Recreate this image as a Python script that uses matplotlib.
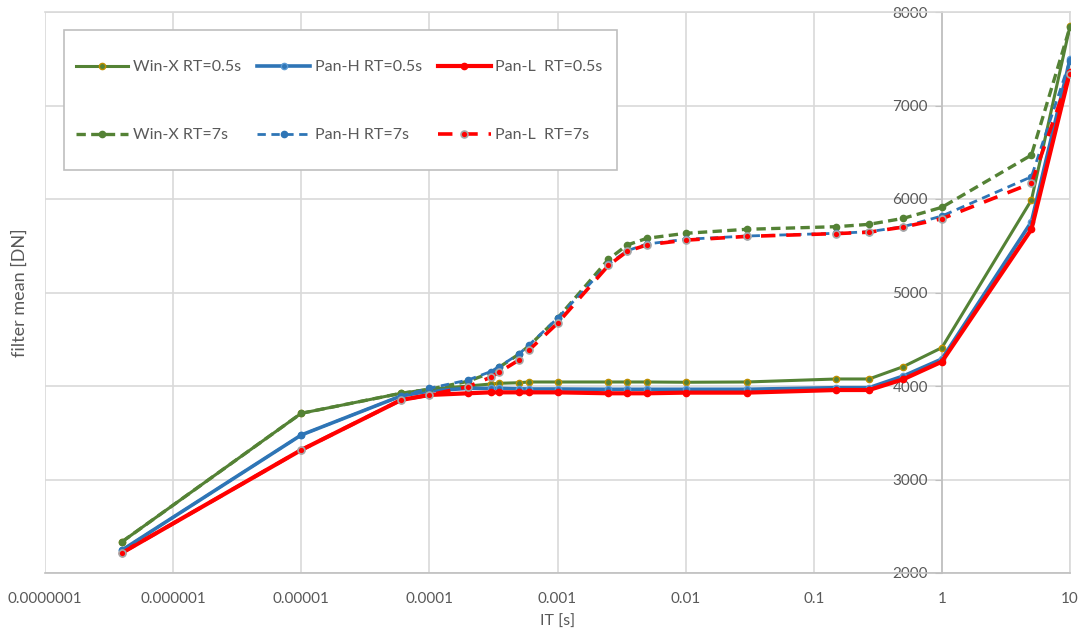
import numpy as np
import matplotlib
matplotlib.use("Agg")
import matplotlib.pyplot as plt
from matplotlib.patches import Rectangle
from matplotlib.ticker import FixedLocator, FixedFormatter, NullLocator

# integration time [s]
it_s = [4e-7, 1e-5, 6e-5, 1e-4, 2e-4, 3e-4, 3.5e-4, 5e-4, 6e-4, 1e-3, 2.5e-3,
        3.5e-3, 5e-3, 1e-2, 3e-2, 0.15, 0.27, 0.5, 1, 5, 10]

# filter mean [DN], RT=0.5s
win_x_05 = [2335, 3708, 3922, 3965, 4000, 4021, 4029, 4035, 4043, 4043, 4043,
            4043, 4043, 4040, 4043, 4075, 4075, 4207, 4410, 5989, 7850]
pan_h_05 = [2246, 3476, 3893, 3946, 3975, 3975, 3975, 3970, 3968, 3968, 3965,
            3965, 3965, 3965, 3965, 3982, 3982, 4107, 4289, 5757, 7494]
pan_l_05 = [2217, 3316, 3850, 3904, 3922, 3932, 3932, 3932, 3932, 3932, 3922,
            3922, 3922, 3929, 3929, 3957, 3957, 4072, 4260, 5676, 7361]

# filter mean [DN], RT=7s
win_x_7 = [2335, 3708, 3922, 3965, 4050, 4140, 4200, 4340, 4430, 4724, 5355,
           5508, 5580, 5633, 5676, 5704, 5729, 5793, 5911, 6470, 7840]
pan_h_7 = [2246, 3476, 3893, 3975, 4064, 4153, 4207, 4342, 4439, 4724, 5305,
           5447, 5519, 5569, 5604, 5633, 5650, 5704, 5818, 6238, 7480]
pan_l_7 = [2217, 3316, 3850, 3904, 3993, 4093, 4147, 4278, 4385, 4671, 5290,
           5440, 5510, 5560, 5600, 5630, 5645, 5700, 5789, 6168, 7340]

x_ticks = [1e-7, 1e-6, 1e-5, 1e-4, 1e-3, 1e-2, 1e-1, 1, 10]
x_tick_labels = ["0.0000001", "0.000001", "0.00001", "0.0001", "0.001",
                 "0.01", "0.1", "1", "10"]
y_ticks = [2000, 3000, 4000, 5000, 6000, 7000, 8000]

plt.rcParams['font.family'] = ['Lato', 'DejaVu Sans']
txt = '#595959'
grid_c = '#D9D9D9'
green = '#548235'
blue = '#2E75B6'
red = '#FF0000'

fig = plt.figure(figsize=(10.81, 6.39), dpi=100)
ax = fig.add_axes([45 / 1081, 66 / 639, 1025 / 1081, 561 / 639])

# RT=0.5s solid
ax.plot(it_s, win_x_05, color=green, lw=2.2, marker='o', ms=4.5,
        mfc=green, mec='#BF9000', mew=1, label='Win-X RT=0.5s', zorder=3)
ax.plot(it_s, pan_h_05, color=blue, lw=2.6, marker='o', ms=4.5,
        mfc=blue, mec='#5B9BD5', mew=1, label='Pan-H RT=0.5s', zorder=3)
ax.plot(it_s, pan_l_05, color=red, lw=3, marker='o', ms=4.5,
        mfc=red, mec=red, mew=1, label='Pan-L  RT=0.5s', zorder=3)

# RT=7s dashed
ax.plot(it_s, win_x_7, color=green, lw=2.4, ls=(0, (2.8, 1.6)), marker='o',
        ms=4.5, mfc=green, mec=green, label='Win-X RT=7s', zorder=4)
ax.plot(it_s, pan_h_7, color=blue, lw=2, ls=(0, (3, 2)), marker='o',
        ms=4.5, mfc=blue, mec=blue, label='Pan-H RT=7s', zorder=4)
ax.plot(it_s, pan_l_7, color=red, lw=2.6, ls=(0, (4, 3)), marker='o',
        ms=5, mfc=red, mec='#A6A6A6', mew=1.2, label='Pan-L  RT=7s', zorder=4)

ax.set_xscale('log')
ax.set_xlim(1e-7, 10)
ax.set_ylim(2000, 8000)
ax.xaxis.set_major_locator(FixedLocator(x_ticks))
ax.xaxis.set_major_formatter(FixedFormatter(x_tick_labels))
ax.xaxis.set_minor_locator(NullLocator())
ax.set_yticks(y_ticks)
ax.set_yticklabels([str(v) for v in y_ticks])

ax.grid(True, color=grid_c, lw=1.2, zorder=0)
ax.set_axisbelow(True)

# vertical axis crosses at IT = 1 s
ax.spines['left'].set_position(('data', 1))
ax.spines['left'].set_color('#BFBFBF')
ax.spines['bottom'].set_color('#BFBFBF')
ax.spines['top'].set_color(grid_c)
ax.spines['right'].set_color(grid_c)
for s in ax.spines.values():
    s.set_linewidth(1.2)

ax.tick_params(axis='x', length=0, pad=14, labelsize=11, labelcolor=txt)
ax.tick_params(axis='y', length=5, color='#BFBFBF', pad=5, labelsize=11,
               labelcolor=txt)

ax.set_xlabel('IT [s]', fontsize=11.5, color=txt)
ax.xaxis.set_label_coords(0.5, -0.075)
ax.set_ylabel('filter mean [DN]', fontsize=13, color=txt)
ax.yaxis.set_label_coords(-0.017, 0.5)

# legend box drawn by hand so padding matches
box = Rectangle((64 / 1081, 1 - 170 / 639), 553 / 1081, 140 / 639,
                transform=fig.transFigure, facecolor='white',
                edgecolor='#BFBFBF', lw=1.2, zorder=5, clip_on=False)
ax.add_patch(box)

h, l = ax.get_legend_handles_labels()
order = [0, 3, 1, 4, 2, 5]
leg = ax.legend([h[i] for i in order], [l[i] for i in order], ncol=3,
                loc='upper left', bbox_to_anchor=(0.030, 0.914),
                frameon=False, fontsize=11.5, labelcolor=txt,
                handlelength=3.3, handletextpad=0.3, columnspacing=1.0,
                labelspacing=3.35, borderpad=0, borderaxespad=0)
leg.set_zorder(6)

fig.savefig('out.png', dpi=100)
